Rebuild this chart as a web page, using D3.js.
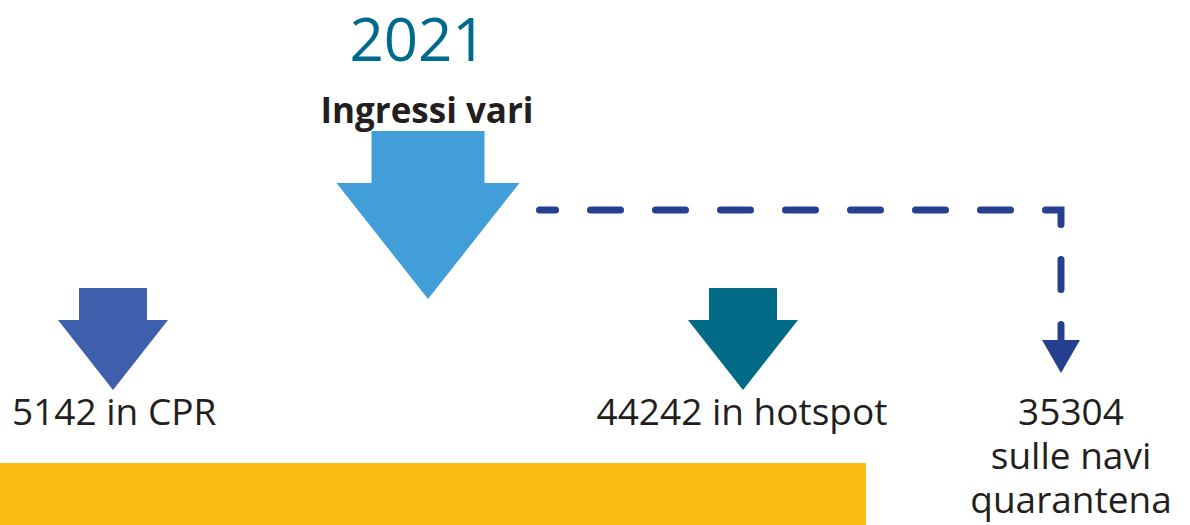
<!DOCTYPE html>
<html>
<head>
<meta charset="utf-8">
<script src="https://cdn.jsdelivr.net/npm/d3@7"></script>
<style>
  body { margin: 0; background: #fff; }
  svg { display: block; font-family: 'Open Sans', sans-serif; }
</style>
</head>
<body>
<div id="main"></div>
<script>
const year = '2021';
const sourceLabel = 'Ingressi vari';
const destinations = ['cpr', 'hotspot', 'navi'];
const destValues = [5142, 44242, 35304];
const destLines = [['in CPR'], ['in hotspot'], ['sulle navi', 'quarantena']];

const width = 1190, height = 525;
const svg = d3.select('#main').append('svg').attr('width', width).attr('height', height);

// horizontal centres of the nodes
const xScale = d3.scaleOrdinal().domain(['source', ...destinations]).range([428, 113, 743, 1061]);
const colorScale = d3.scaleOrdinal().domain(['source', ...destinations])
    .range(['#429ed8', '#3d5fac', '#016a86', '#263f8f']);

// block arrow pointing down: shaft + head
function blockArrow(cx, top, shaftW, shaftH, headW, headH) {
    const p = d3.path();
    p.moveTo(cx - shaftW / 2, top);
    p.lineTo(cx + shaftW / 2, top);
    p.lineTo(cx + shaftW / 2, top + shaftH);
    p.lineTo(cx + headW / 2, top + shaftH);
    p.lineTo(cx, top + shaftH + headH);
    p.lineTo(cx - headW / 2, top + shaftH);
    p.lineTo(cx - shaftW / 2, top + shaftH);
    p.closePath();
    return p.toString();
}

// yellow band at the bottom
svg.append('rect')
    .attr('x', 0).attr('y', 463)
    .attr('width', 866).attr('height', height - 463)
    .attr('fill', '#fbbc13');

// title
svg.append('text')
    .attr('x', 418).attr('y', 61)
    .attr('text-anchor', 'middle')
    .style('font-size', '60px')
    .attr('fill', '#006a8e')
    .text(year);

svg.append('text')
    .attr('x', 427).attr('y', 123)
    .attr('text-anchor', 'middle')
    .style('font-size', '35px')
    .style('font-weight', 'bold')
    .attr('fill', '#231f20')
    .text(sourceLabel);

// big source arrow
svg.append('path')
    .attr('d', blockArrow(xScale('source'), 131, 113, 52, 183, 116))
    .attr('fill', colorScale('source'));

// block arrows for CPR and hotspot
const blockDest = destinations.slice(0, 2);
svg.selectAll('.dest-arrow')
    .data(blockDest)
    .enter()
    .append('path')
        .attr('class', 'dest-arrow')
        .attr('d', d => blockArrow(xScale(d), 288, 68, 32, 110, 70))
        .attr('fill', d => colorScale(d));

// dashed connector to the quarantine ships
const navX = xScale('navi');
const conn = d3.path();
conn.moveTo(539.5, 210);
conn.lineTo(navX, 210);
conn.lineTo(navX, 345);
svg.append('path')
    .attr('d', conn.toString())
    .attr('fill', 'none')
    .attr('stroke', colorScale('navi'))
    .attr('stroke-width', 7)
    .attr('stroke-linecap', 'round')
    .attr('stroke-dasharray', '30 35')
    .attr('stroke-dashoffset', 14);

svg.append('path')
    .attr('d', `M${navX - 19},340 L${navX + 19},340 L${navX},373 Z`)
    .attr('fill', colorScale('navi'));

// labels
const fmt = d3.format('d');
const labels = destinations.map((d, i) => ({ key: d, value: destValues[i], lines: destLines[i] }));

const labelG = svg.selectAll('.dest-label')
    .data(labels)
    .enter()
    .append('text')
        .attr('class', 'dest-label')
        .style('font-size', '37px')
        .attr('fill', '#231f20');

labelG.filter(d => d.lines.length === 1)
    .attr('x', d => d.key === 'cpr' ? 12 : 742)
    .attr('y', 425)
    .attr('text-anchor', d => d.key === 'cpr' ? 'start' : 'middle')
    .text(d => `${fmt(d.value)} ${d.lines[0]}`);

labelG.filter(d => d.lines.length > 1)
    .attr('text-anchor', 'middle')
    .each(function (d) {
        const t = d3.select(this);
        [fmt(d.value), ...d.lines].forEach((line, j) => {
            t.append('tspan')
                .attr('x', 1071)
                .attr('y', 425 + j * 44)
                .text(line);
        });
    });
</script>
</body>
</html>
